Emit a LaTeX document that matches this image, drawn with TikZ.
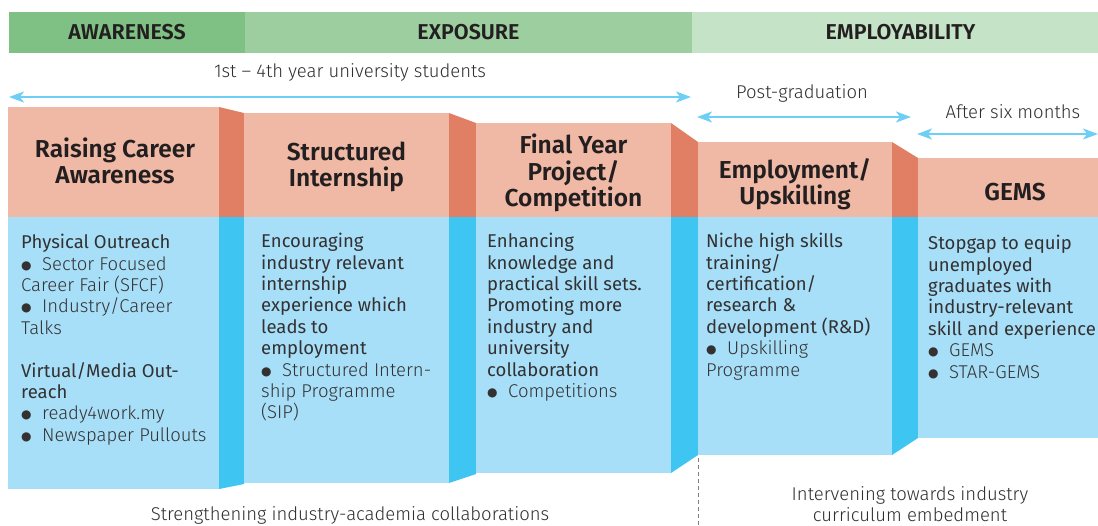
\documentclass[tikz,border=0pt]{standalone}
\usepackage{fontspec}
\setmainfont{Fira Sans}
\newfontfamily\lightf{Fira Sans Light}
\newfontfamily\semif{Fira Sans SemiBold}
\newfontfamily\symf{DejaVu Sans}
\usetikzlibrary{arrows.meta}
\definecolor{gA}{HTML}{7FC084}
\definecolor{gB}{HTML}{9DCE9F}
\definecolor{gC}{HTML}{C5E3C6}
\definecolor{sal}{HTML}{F0B9A5}
\definecolor{salD}{HTML}{E17F65}
\definecolor{blu}{HTML}{A8DFF8}
\definecolor{bluD}{HTML}{3FC5F1}
\definecolor{arr}{HTML}{6DCFF6}
\definecolor{txt}{HTML}{231F20}
\definecolor{txtB}{HTML}{333132}
\definecolor{txtL}{HTML}{2E2E2E}
\newcommand{\bl}[1]{\makebox[21pt][l]{\raisebox{1pt}{\symf\fontsize{12}{12}\selectfont ●}}{\lightf #1}}
\newcommand{\lt}[1]{{\lightf #1}}
\begin{document}
\begin{tikzpicture}[x=1pt,y=-1pt,
  band/.style={inner sep=0pt, minimum height=41pt, text=txt, font=\semif\fontsize{21.5}{23}\selectfont},
  title/.style={align=center, inner sep=0pt, text=txt, font=\semif\fontsize{24.5}{26.5}\selectfont},
  body/.style={anchor=north west, inner sep=0pt, align=left, text=txtB, font=\fontsize{18.5}{21.4}\selectfont},
  note/.style={inner sep=0pt, align=center, text=txtL, font=\lightf\fontsize{18.5}{21}\selectfont},
  dbl/.style={draw=arr, line width=2pt, {Stealth[length=15pt,width=11pt,inset=4pt]}-{Stealth[length=15pt,width=11pt,inset=4pt]}}
]
\useasboundingbox (0,0) rectangle (1098,525);
% header bands
\node[band, fill=gA, minimum width=236pt] (aw) at (127,32.5) {AWARENESS};
\node[band, fill=gB, minimum width=447pt] (ex) at (468.5,32.5) {EXPOSURE};
\node[band, fill=gC, minimum width=406pt] (em) at (895,32.5) {\hspace*{11pt}EMPLOYABILITY};
% range labels and arrows
\node[note] (l1) at (350,72) {1st – 4th year university students};
\coordinate (a1s) at (9,97); \coordinate (a1e) at (691,97);
\draw[dbl] (a1s) -- (a1e);
\node[note] (l2) at (802,93) {Post-graduation};
\coordinate (a2s) at (697,117); \coordinate (a2e) at (911,117);
\draw[dbl] (a2s) -- (a2e);
\node[note] (l3) at (1013,112) {After six months};
\coordinate (a3s) at (917,134); \coordinate (a3e) at (1098,134);
\draw[dbl] (a3s) -- (a3e);
% panels
\fill[sal] (8,107) rectangle (219,217);
\fill[blu] (8,217) rectangle (219,489);
\fill[salD] (219,107) -- (244,113) -- (244,217) -- (219,217) -- cycle;
\fill[bluD] (219,217) -- (244,217) -- (244,484) -- (219,489) -- cycle;
\fill[sal] (244,113) rectangle (449,217);
\fill[blu] (244,217) rectangle (449,483);
\fill[salD] (449,113) -- (476,123) -- (476,217) -- (449,217) -- cycle;
\fill[bluD] (449,217) -- (476,217) -- (476,474) -- (449,483) -- cycle;
\fill[sal] (476,123) rectangle (671,217);
\fill[blu] (476,217) rectangle (671,473);
\fill[salD] (671,123) -- (698,142) -- (698,217) -- (671,217) -- cycle;
\fill[bluD] (671,217) -- (698,217) -- (698,455) -- (671,473) -- cycle;
\fill[sal] (698,142) rectangle (892,217);
\fill[blu] (698,217) rectangle (892,455);
\fill[salD] (892,142) -- (918,158) -- (918,217) -- (892,217) -- cycle;
\fill[bluD] (892,217) -- (918,217) -- (918,438) -- (892,455) -- cycle;
\fill[sal] (918,158) rectangle (1098,217);
\fill[blu] (918,217) rectangle (1098,438);
% titles
\node[title] (t1) at (115,161) {Raising Career\\Awareness};
\node[title] (t2) at (346.5,167) {Structured\\Internship};
\node[title] (t3) at (573.5,173) {Final Year\\Project/\\Competition};
\node[title] (t4) at (795,184) {Employment/\\Upskilling};
\node[title] (t5) at (1015,192) {GEMS};
% bodies
\node[body] (b1) at (21,234) {Physical Outreach\\\bl{Sector Focused}\\\lt{Career Fair (SFCF)}\\\bl{Industry/Career}\\\lt{Talks}\\[21.4pt]Virtual/Media Out-\\reach\\\bl{ready4work.my}\\\bl{Newspaper Pullouts}};
\node[body] (b2) at (261,233) {Encouraging\\industry relevant\\internship\\experience which\\leads to\\employment\\\bl{Structured Intern-}\\\lt{ship Programme}\\\lt{(SIP)}};
\node[body] (b3) at (487,233) {Enhancing\\knowledge and\\practical skill sets.\\Promoting more\\industry and\\university\\collaboration\\\bl{Competitions}};
\node[body] (b4) at (706,233) {Niche high skills\\training/\\certification/\\research \&\\development (R\&D)\\\bl{Upskilling}\\\lt{Programme}};
\node[body] (b5) at (928,235) {Stopgap to equip\\unemployed\\graduates with\\industry-relevant\\skill and experience\\\bl{GEMS}\\\bl{STAR-GEMS}};
% bottom
\coordinate (d1) at (698,458); \coordinate (d2) at (698,525);
\draw[gray, line width=0.8pt, dash pattern=on 4pt off 3pt] (d1) -- (d2);
\node[note] (n1) at (350,515) {Strengthening industry-academia collaborations};
\node[note] (n2) at (910,504) {Intervening towards industry\\curriculum embedment};
\end{tikzpicture}
\end{document}
